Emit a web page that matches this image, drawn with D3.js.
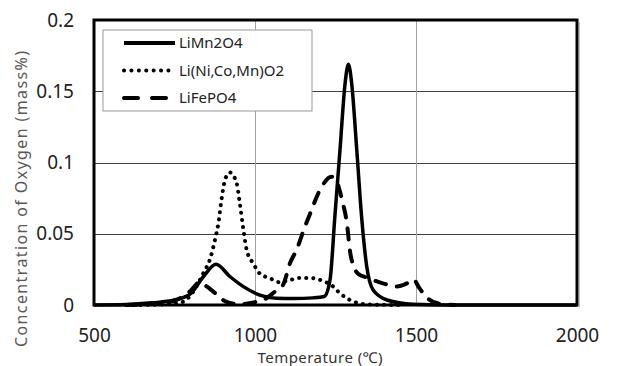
<!DOCTYPE html>
<html>
<head>
<meta charset="utf-8">
<script src="https://cdn.jsdelivr.net/npm/d3@7"></script>
<style>
  body { margin: 0; background: #fff; }
  svg { display: block; font-family: "Noto Sans", sans-serif; }
</style>
</head>
<body>
<div id="rootDiv"></div>
<script>
// LiMn2O4 (solid)
const mnTemp = [500, 600, 680, 750, 800, 840, 879, 922, 964, 1015, 1067, 1120, 1180, 1215, 1233, 1248, 1264, 1280, 1290, 1300, 1316, 1331, 1347, 1367, 1410, 1490, 1600, 2000]
const mnConc = [0, 0.0003, 0.0015, 0.0035, 0.008, 0.020, 0.0286, 0.020, 0.0129, 0.007, 0.0047, 0.0045, 0.005, 0.006, 0.0176, 0.062, 0.109, 0.156, 0.169, 0.156, 0.109, 0.062, 0.027, 0.0105, 0.0035, 0.0005, 0, 0]
// Li(Ni,Co,Mn)O2 (dotted)
const ncmTemp = [600, 700, 745, 777, 808, 839, 860, 876, 886, 896, 907, 922, 943, 953, 964, 974, 995, 1015, 1047, 1075, 1109, 1140, 1171, 1202, 1243, 1264, 1295, 1347, 1450]
const ncmConc = [0, 0.0003, 0.001, 0.0023, 0.0094, 0.022, 0.032, 0.046, 0.057, 0.074, 0.088, 0.093, 0.0855, 0.071, 0.053, 0.0387, 0.029, 0.022, 0.0187, 0.016, 0.0176, 0.019, 0.019, 0.0176, 0.0129, 0.0082, 0.0035, 0.0005, 0]
// LiFePO4 (dashed)
const lfpTemp = [600, 700, 760, 800, 828, 850, 876, 910, 950, 1000, 1030, 1062, 1087, 1109, 1129, 1155, 1171, 1200, 1238, 1255, 1270, 1285, 1297, 1320, 1350, 1400, 1440, 1470, 1492, 1510, 1540, 1570, 1620]
const lfpConc = [0, 0.001, 0.004, 0.010, 0.016, 0.013, 0.0084, 0.0023, 0.0005, 0.002, 0.004, 0.0094, 0.014, 0.0295, 0.0387, 0.055, 0.064, 0.080, 0.090, 0.086, 0.074, 0.058, 0.035, 0.022, 0.019, 0.015, 0.013, 0.015, 0.018, 0.012, 0.004, 0.001, 0]

const xTicks = [500, 1000, 1500, 2000]
const yTicks = [0, 0.05, 0.1, 0.15, 0.2]
const seriesNames = ["LiMn2O4", "Li(Ni,Co,Mn)O2", "LiFePO4"]

const W = 617, H = 366
const margin = { top: 20, right: 40, bottom: 61, left: 94 }

const x = d3.scaleLinear().domain([500, 2000]).range([margin.left, W - margin.right])
const y = d3.scaleLinear().domain([0, 0.2]).range([H - margin.bottom, margin.top])

const svg = d3.select("#rootDiv").append("svg")
    .attr("width", W)
    .attr("height", H)

// grid
svg.append("g")
    .selectAll("line")
    .data(yTicks.slice(1, -1))
    .enter()
    .append("line")
    .attr("x1", x(500)).attr("x2", x(2000))
    .attr("y1", d => Math.round(y(d)) + 0.5).attr("y2", d => Math.round(y(d)) + 0.5)
    .attr("stroke", "#404040")
    .attr("stroke-width", 1)

svg.append("g")
    .selectAll("line")
    .data(xTicks.slice(1, -1))
    .enter()
    .append("line")
    .attr("x1", d => Math.round(x(d)) + 0.5).attr("x2", d => Math.round(x(d)) + 0.5)
    .attr("y1", y(0)).attr("y2", y(0.2))
    .attr("stroke", "#a0a0a0")
    .attr("stroke-width", 1)

// curves
const line = d3.line()
    .x(d => x(d[0]))
    .y(d => y(d[1]))
    .curve(d3.curveMonotoneX)

const series = [
    { pts: d3.zip(mnTemp, mnConc), dash: null, width: 3.5 },
    { pts: d3.zip(ncmTemp, ncmConc), dash: "0.1,7", width: 4 },
    { pts: d3.zip(lfpTemp, lfpConc), dash: "11,11", width: 4 },
]

svg.append("g")
    .selectAll("path")
    .data(series)
    .enter()
    .append("path")
    .attr("d", d => line(d.pts))
    .attr("fill", "none")
    .attr("stroke", "#000")
    .attr("stroke-width", d => d.width)
    .attr("stroke-linecap", d => d.dash ? "round" : "butt")
    .attr("stroke-linejoin", "round")
    .attr("stroke-dasharray", d => d.dash)

// plot border (with the faint shadow on the right)
svg.append("line")
    .attr("x1", x(2000) + 2.5).attr("x2", x(2000) + 2.5)
    .attr("y1", y(0.2) + 2).attr("y2", y(0) + 2)
    .attr("stroke", "#bbb")
    .attr("stroke-width", 1)
svg.append("rect")
    .attr("x", x(500))
    .attr("y", y(0.2))
    .attr("width", x(2000) - x(500))
    .attr("height", y(0) - y(0.2))
    .attr("fill", "none")
    .attr("stroke", "#000")
    .attr("stroke-width", 3)

// axes
const xAxis = svg.append("g")
    .attr("transform", `translate(0,${y(0)})`)
    .call(d3.axisBottom(x).tickValues(xTicks).tickSize(0).tickPadding(24).tickFormat(d3.format("d")))
const yAxis = svg.append("g")
    .attr("transform", `translate(${x(500)},0)`)
    .call(d3.axisLeft(y).tickValues(yTicks).tickSize(0).tickPadding(20).tickFormat(d3.format("~g")))

for (const axis of [xAxis, yAxis]) {
    axis.select(".domain").remove()
    axis.selectAll("text")
        .style("font-family", "Noto Sans, sans-serif")
        .style("font-size", "19px")
        .style("fill", "#222")
}

// legend
const lg = svg.append("g").attr("transform", "translate(103,30)")
lg.append("rect")
    .attr("width", 209)
    .attr("height", 81)
    .attr("fill", "#fff")
    .attr("stroke", "#999")
const rows = lg.selectAll("g.row")
    .data(series)
    .enter()
    .append("g")
    .attr("class", "row")
    .attr("transform", (d, i) => `translate(0,${13 + i * 27.5})`)
rows.append("line")
    .attr("x1", 21).attr("x2", 72)
    .attr("stroke", "#000")
    .attr("stroke-width", 4)
    .attr("stroke-linecap", d => d.dash ? "round" : "butt")
    .attr("stroke-dasharray", (d, i) => i == 1 ? "0.1,7.3" : i == 2 ? "14,14" : null)
rows.append("text")
    .attr("x", 76)
    .attr("dy", "0.35em")
    .style("font-size", "15px")
    .style("fill", "#222")
    .text((d, i) => seriesNames[i])

// axis titles
svg.append("text")
    .attr("transform", "translate(27,199) rotate(-90)")
    .attr("text-anchor", "middle")
    .attr("textLength", 296)
    .attr("lengthAdjust", "spacing")
    .style("font-size", "16px")
    .style("fill", "#595959")
    .text("Concentration of Oxygen (mass%)")

svg.append("text")
    .attr("x", 320)
    .attr("y", 363)
    .attr("text-anchor", "middle")
    .attr("textLength", 125)
    .attr("lengthAdjust", "spacing")
    .style("font-size", "15px")
    .style("fill", "#333")
    .text("Temperature (℃)")
</script>
</body>
</html>
